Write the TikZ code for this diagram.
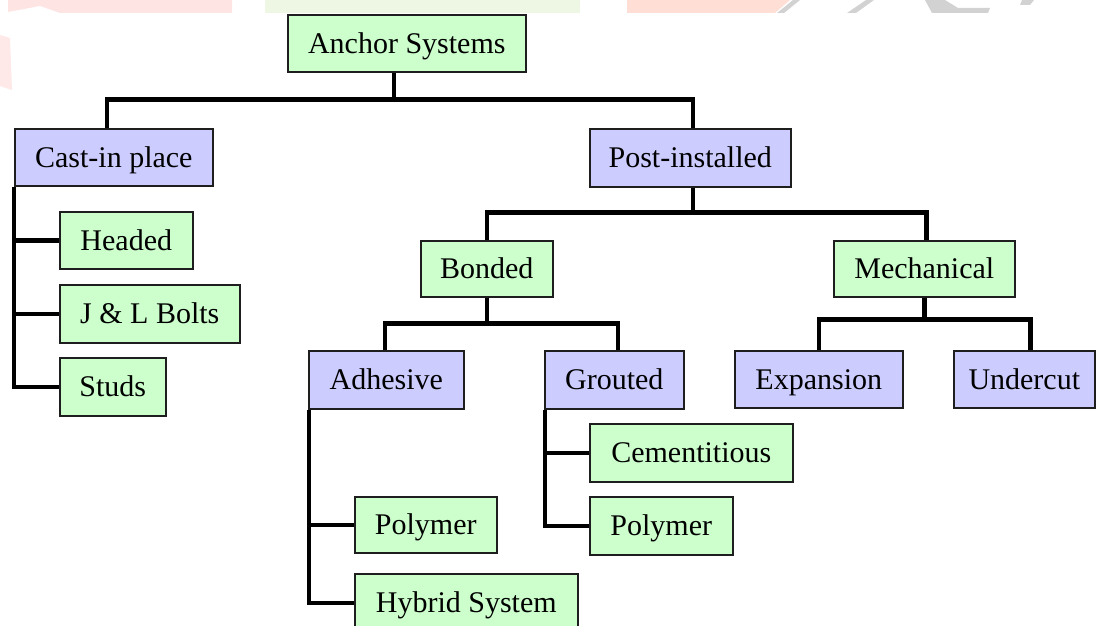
\documentclass[tikz,border=0pt]{standalone}
\usepackage{fontspec}
\setmainfont{Liberation Serif}
\tikzset{
  box/.style={draw={rgb,255:red,30;green,30;blue,30}, line width=1.6pt, anchor=north west,
    inner sep=0pt, text height=19.5pt, text depth=0pt, font=\fontsize{30}{35}\selectfont},
  greenbox/.style={box, fill={rgb,255:red,204;green,255;blue,204}},
  bluebox/.style={box, fill={rgb,255:red,204;green,204;blue,255}},
  link/.style={line width=4.4pt, line join=miter},
  wmark/.style={draw=none, fill opacity=1}
}
\begin{document}
\begin{tikzpicture}[x=1pt,y=-1pt]
\useasboundingbox (0,0) rectangle (1097,626);
\clip (0,0) rectangle (1097,626);

%Shape: faint bands along the top edge
\fill[wmark, fill={rgb,255:red,255;green,228;blue,228}] (8,0) -- (232,0) -- (232,13) -- (60,13) -- (40,6) -- (8,12) -- cycle;
\fill[wmark, fill={rgb,255:red,255;green,232;blue,232}] (0,35) -- (10,38) -- (12,90) -- (0,86) -- cycle;
\fill[wmark, fill={rgb,255:red,238;green,246;blue,228}] (265,0) -- (580,0) -- (580,13) -- (265,13) -- cycle;
\fill[wmark, fill={rgb,255:red,255;green,222;blue,214}] (627,0) -- (790,0) -- (775,13) -- (627,13) -- cycle;
\fill[wmark, fill={rgb,255:red,210;green,210;blue,210}] (793,0) -- (800,0) -- (784,13) -- (777,13) -- cycle;
\fill[wmark, fill={rgb,255:red,210;green,210;blue,210}] (866,0) -- (874,0) -- (856,13) -- (847,13) -- cycle;
\fill[wmark, fill={rgb,255:red,210;green,210;blue,210}] (925,0) -- (945,0) -- (958,8) -- (990,8) -- (988,13) -- (932,13) -- cycle;
\fill[wmark, fill={rgb,255:red,210;green,210;blue,210}] (1022,0) -- (1034,0) -- (1030,5) -- (1020,5) -- cycle;

% Boxes
\node[greenbox, minimum width=238pt, minimum height=57pt] (anchor) at (287,14) {Anchor Systems};
\node[bluebox, minimum width=198pt, minimum height=57pt] (cast) at (14,128) {Cast-in place};
\node[bluebox, minimum width=201pt, minimum height=58pt] (post) at (589,128) {Post-installed};

\node[greenbox, minimum width=133pt, minimum height=57pt] (headed) at (59,211) {Headed};
\node[greenbox, minimum width=180pt, minimum height=58pt] (bolts) at (59,284) {J \& L Bolts};
\node[greenbox, minimum width=106pt, minimum height=58pt] (studs) at (59,357) {Studs};

\node[greenbox, minimum width=132pt, minimum height=56pt] (bonded) at (420,240) {Bonded};
\node[greenbox, minimum width=181pt, minimum height=56pt] (mech) at (833,240) {Mechanical};

\node[bluebox, minimum width=155pt, minimum height=58pt] (adhesive) at (308,350) {Adhesive};
\node[bluebox, minimum width=139pt, minimum height=58pt] (grouted) at (544,350) {Grouted};
\node[bluebox, minimum width=168pt, minimum height=57pt] (expansion) at (734,350) {Expansion};
\node[bluebox, minimum width=141pt, minimum height=57pt] (undercut) at (953,350) {Undercut};

\node[greenbox, minimum width=203pt, minimum height=58pt] (cement) at (589,423) {Cementitious};
\node[greenbox, minimum width=143pt, minimum height=58pt] (polyg) at (589,496) {Polymer};
\node[greenbox, minimum width=142pt, minimum height=56pt] (polya) at (354,496) {Polymer};
\node[greenbox, minimum width=223pt, minimum height=58pt] (hybrid) at (354,573) {Hybrid System};

% Connectors, top level
\draw[link] ([xshift=-13pt]anchor.south) -- ++(0,27) coordinate (busa);
\draw[link] ([xshift=-7pt]cast.north) |- (busa) -| ([xshift=2.5pt]post.north);

% Post-installed branch
\draw[link] ([xshift=2.5pt]post.south) -- ++(0,25) coordinate (busp);
\draw[link] (bonded.north) |- (busp) -| ([xshift=2pt]mech.north);

\draw[link] (bonded.south) -- ++(0,26) coordinate (busb);
\draw[link] ([xshift=-1.5pt]adhesive.north) |- (busb) -| ([xshift=3.5pt]grouted.north);

\draw[link] ([xshift=0pt]mech.south) -- ++(0,22) coordinate (busm);
\draw[link] (expansion.north) |- (busm) -| ([xshift=6pt]undercut.north);

% Side branches
\draw[link] (cast.south west) |- (studs.west);
\draw[link] (cast.south west |- headed.west) -- (headed.west);
\draw[link] (cast.south west |- bolts.west) -- (bolts.west);

\draw[link] ([xshift=1pt]adhesive.south west) |- (hybrid.west);
\draw[link] ([xshift=1pt]adhesive.south west |- polya.west) -- (polya.west);

\draw[link] ([xshift=1pt]grouted.south west) |- (polyg.west);
\draw[link] ([xshift=1pt]grouted.south west |- cement.west) -- (cement.west);

\end{tikzpicture}
\end{document}
